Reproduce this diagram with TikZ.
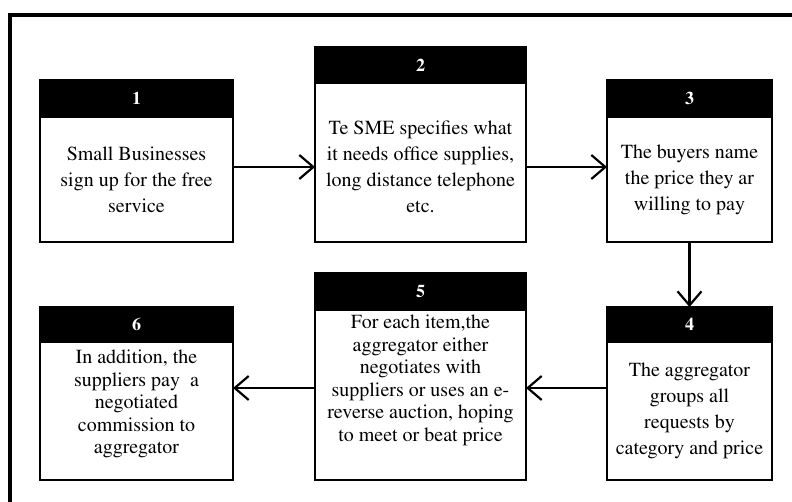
\documentclass[tikz,border=0pt]{standalone}
\usepackage[T1]{fontenc}
\usepackage{times}
\usetikzlibrary{positioning,arrows.meta}

\tikzset{
  stephead/.style={draw=black, fill=black, line width=2.4pt, text=white, inner sep=0pt, outer sep=0pt,
    font=\fontsize{18pt}{20pt}\selectfont\bfseries},
  stepbody/.style={draw=black, fill=white, line width=2.4pt, inner sep=0pt, outer sep=0pt,
    font=\fontsize{20pt}{26pt}\selectfont},
  tightbody/.style={stepbody, font=\fontsize{20pt}{22.5pt}\selectfont},
  steparrow/.style={-{Straight Barb[length=14pt,width=24pt]}, line width=2.2pt},
  frameline/.style={line width=3.2pt}
}

\begin{document}
\begin{tikzpicture}[x=1pt,y=-1pt]
  \useasboundingbox (0,0) rectangle (792,502);
  \draw [frameline] (792,15) -- (10,15) -- (10,502);

  \node [stephead, minimum width=193pt, minimum height=37pt] (h1) at (136.5,98.5) {1};
  \node [stepbody, below=0pt of h1] (b1) {\parbox[c][125pt][c]{193pt}{\centering Small Businesses\\ sign up for the free\\ service}};

  \node [stephead, minimum width=211pt, minimum height=36pt] (h2) at (420.5,65) {2};
  \node [stepbody, below=0pt of h2] (b2) {\parbox[c][159pt][c]{211pt}{\centering\vspace*{8pt}Te SME specifies what\\ it needs office supplies,\\ long distance telephone\\ etc.}};

  \node [stephead, minimum width=165pt, minimum height=37pt] (h3) at (689.5,98.5) {3};
  \node [stepbody, below=0pt of h3] (b3) {\parbox[c][125pt][c]{165pt}{\centering The buyers name\\ the price they ar\\ willing to pay}};

  \node [stephead, minimum width=165pt, minimum height=35pt] (h4) at (689.5,324.5) {4};
  \node [stepbody, below=0pt of h4] (b4) {\parbox[c][138pt][c]{165pt}{\centering The aggregator\\ groups all\\ requests by\\ category and price}};

  \node [stephead, minimum width=211pt, minimum height=37pt] (h5) at (420.5,291.5) {5};
  \node [tightbody, below=0pt of h5] (b5) {\parbox[c][170pt][t]{211pt}{\centering\vspace*{5pt}For each item,the\\ aggregator either\\ negotiates with\\ suppliers or uses an e-\\ reverse auction, hoping\\ to meet or beat price}};

  \node [stephead, minimum width=193pt, minimum height=35pt] (h6) at (136.5,324.5) {6};
  \node [tightbody, below=0pt of h6] (b6) {\parbox[c][138pt][t]{193pt}{\centering\vspace*{8pt}In addition, the\\ suppliers pay\ \ a\\ negotiated\\ commission to\\ aggregator}};

  \coordinate (toprow) at (0,167);
  \coordinate (lowrow) at (0,388);
  \draw [steparrow] (b1.east |- toprow) -- (b2.west |- toprow);
  \draw [steparrow] (b2.east |- toprow) -- (b3.west |- toprow);
  \draw [steparrow] (b3.south) -- (h4.north);
  \draw [steparrow] (b4.west |- lowrow) -- (b5.east |- lowrow);
  \draw [steparrow] (b5.west |- lowrow) -- (b6.east |- lowrow);
\end{tikzpicture}
\end{document}
